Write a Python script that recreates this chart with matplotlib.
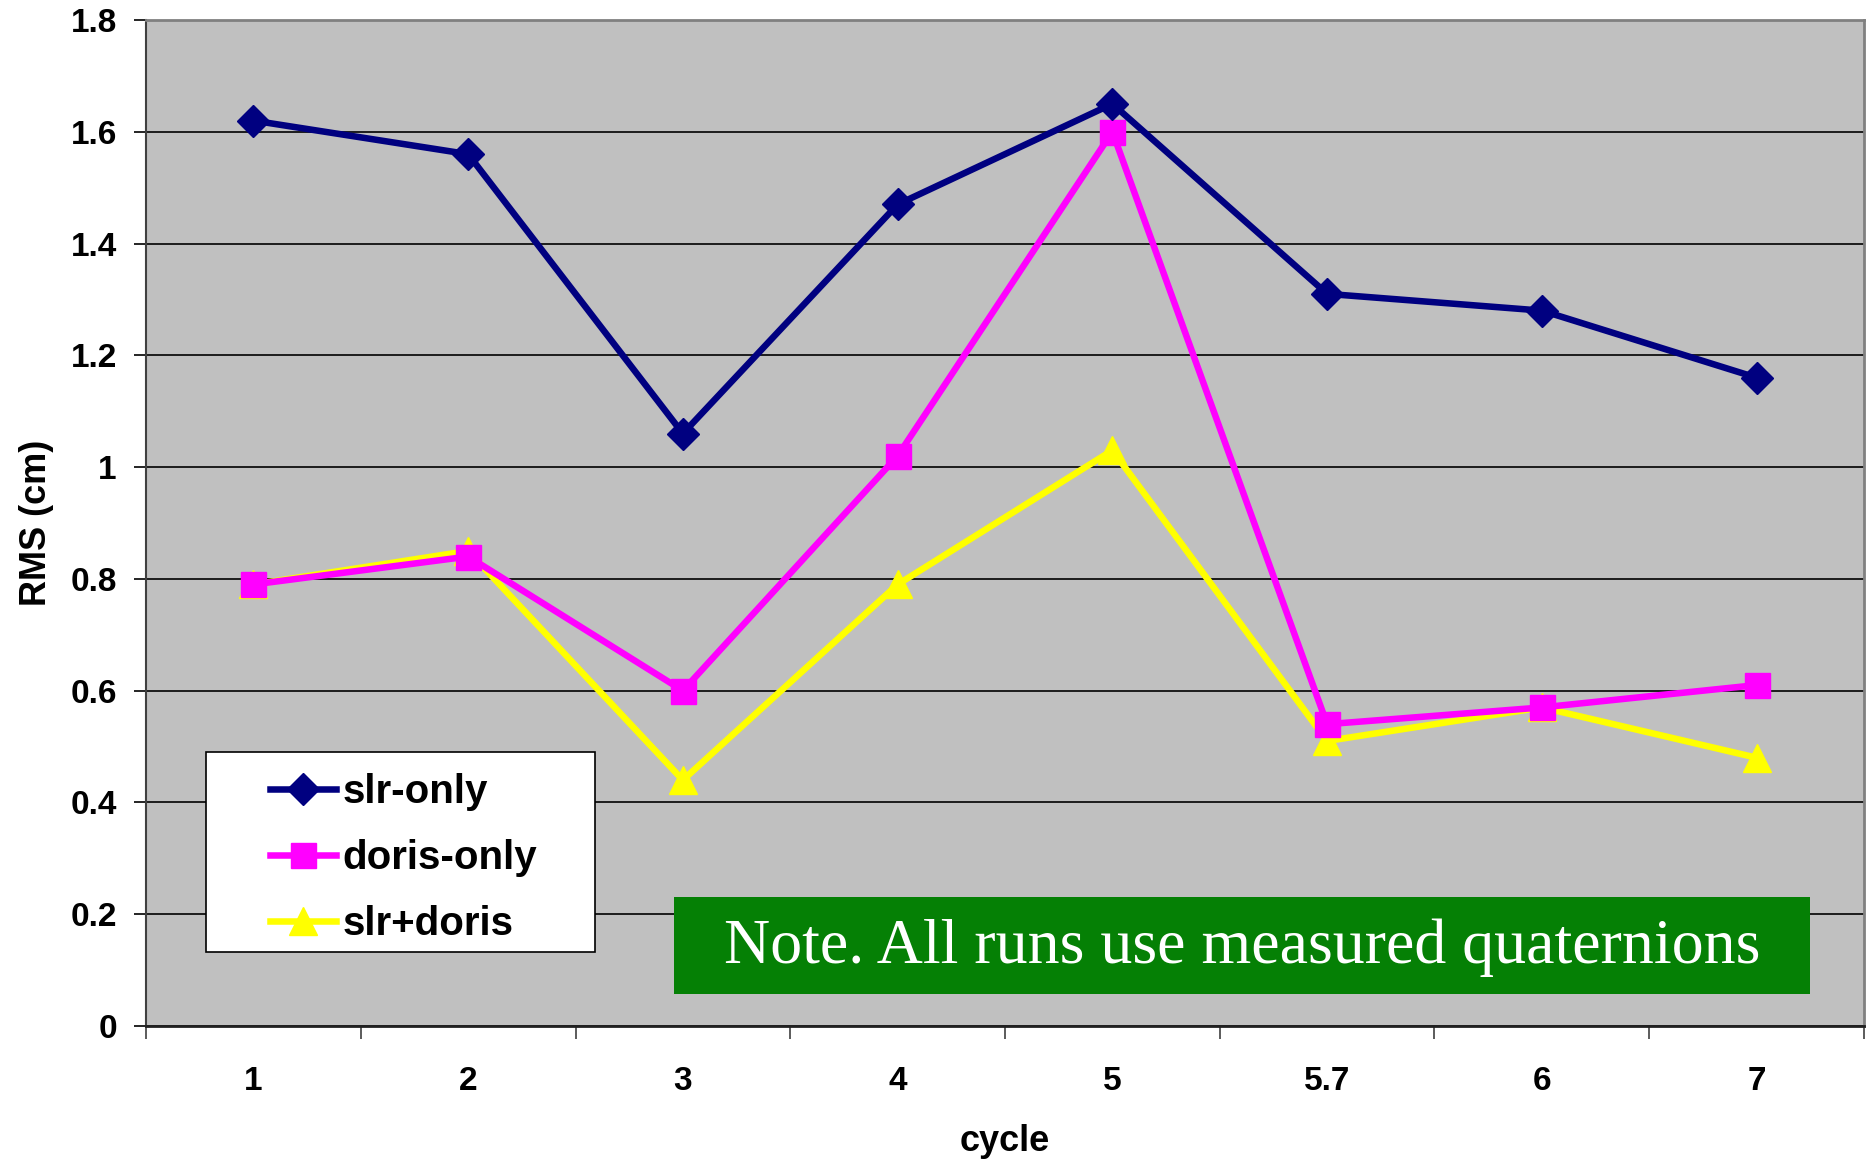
import matplotlib.pyplot as plt
from matplotlib.patches import Rectangle
import numpy as np

cycles = ["1", "2", "3", "4", "5", "5.7", "6", "7"]
slr_only = [1.62, 1.56, 1.06, 1.47, 1.65, 1.31, 1.28, 1.16]
doris_only = [0.79, 0.84, 0.60, 1.02, 1.60, 0.54, 0.57, 0.61]
slr_doris = [0.79, 0.85, 0.44, 0.79, 1.03, 0.51, 0.57, 0.48]

plt.rcParams["font.family"] = ["Liberation Sans", "DejaVu Sans"]
plt.rcParams["font.weight"] = "bold"

W, H = 1866, 1161
fig = plt.figure(figsize=(W / 100, H / 100), dpi=100)
ax = fig.add_axes([146 / W, 1 - 1026 / H, (1864 - 146) / W, (1026 - 20) / H])
ax.set_facecolor("#C0C0C0")


def axfrac(px, py):
    # pixel position -> axes fraction
    return (px - 146) / 1718, (1026 - py) / 1006


x = np.arange(len(cycles))
ax.plot(x, slr_only, color="#000080", lw=4.7, marker="D", ms=16, label="slr-only", zorder=5)
ax.plot(x, doris_only, color="#FF00FF", lw=4.7, marker="s", ms=18, label="doris-only", zorder=4)
ax.plot(x, slr_doris, color="#FFFF00", lw=4.7, marker="^", ms=20, label="slr+doris", zorder=3)

ax.set_xlim(-0.5, len(cycles) - 0.5)
ax.set_ylim(0, 1.8)
ax.set_yticks(np.arange(0, 1.81, 0.2))
ax.set_yticklabels(["0", "0.2", "0.4", "0.6", "0.8", "1", "1.2", "1.4", "1.6", "1.8"])
ax.set_xticks(x)
ax.set_xticklabels(cycles)
ax.set_xticks(np.arange(-0.5, len(cycles)), minor=True)
ax.tick_params(axis="x", which="major", length=0, pad=29, labelsize=24)
ax.tick_params(axis="x", which="minor", length=9, width=1.2, color="#404040", direction="out")
ax.tick_params(axis="y", length=9, width=1.2, direction="out", labelsize=24, pad=12)

ax.grid(axis="y", color="black", lw=1.2)
ax.set_axisbelow(True)
for side in ["top", "right"]:
    ax.spines[side].set_color("#808080")
    ax.spines[side].set_linewidth(2)
ax.spines["left"].set_color("#404040")
ax.spines["bottom"].set_color("#202020")
ax.spines["left"].set_linewidth(1.5)
ax.spines["bottom"].set_linewidth(2)

ax.set_xlabel("cycle", fontsize=26, fontweight="bold", labelpad=19)
ax.set_ylabel("RMS (cm)", fontsize=26, fontweight="bold", labelpad=12)

# legend box drawn separately so the entries can sit inside it freely
x0, y0 = axfrac(206, 952)
x1, y1 = axfrac(595, 752)
ax.add_patch(Rectangle((x0, y0), x1 - x0, y1 - y0, transform=ax.transAxes,
                       fc="white", ec="black", lw=1.2, zorder=8))
leg = ax.legend(loc="upper left", bbox_to_anchor=axfrac(270, 773), frameon=False,
                fontsize=29, handlelength=1.65, borderpad=0, labelspacing=0.7,
                handletextpad=0.15, borderaxespad=0)
leg.set_zorder(9)

# green note box
nx0, ny0 = axfrac(674, 994)
nx1, ny1 = axfrac(1810, 897)
ax.add_patch(Rectangle((nx0, ny0), nx1 - nx0, ny1 - ny0, transform=ax.transAxes,
                       fc="#058005", ec="none", zorder=9))
ax.text(*axfrac(1242, 948), "Note. All runs use measured quaternions", transform=ax.transAxes,
        ha="center", va="center", fontsize=46, family="Liberation Serif",
        fontweight="normal", color="white", zorder=10)

fig.savefig("out.png", dpi=100)
